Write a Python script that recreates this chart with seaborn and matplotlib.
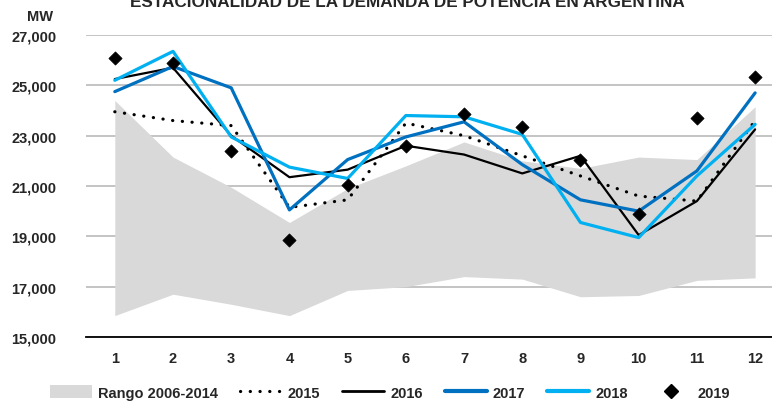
import numpy as np
import pandas as pd
import seaborn as sns
import matplotlib
matplotlib.use("Agg")
import matplotlib.pyplot as plt
from matplotlib.lines import Line2D
from matplotlib.patches import Patch

meses = list(range(1, 13))

# rango historico 2006-2014 (min / max)
rango_min = [15850, 16700, 16300, 15850, 16850, 17000, 17400, 17300, 16600, 16650, 17250, 17350]
rango_max = [24400, 22150, 20950, 19550, 20900, 21800, 22750, 22000, 21700, 22150, 22050, 24150]

d2015 = [23950, 23600, 23400, 20150, 20450, 23500, 23000, 22200, 21400, 20600, 20400, 23600]
d2016 = [25250, 25700, 23000, 21350, 21650, 22600, 22250, 21500, 22200, 19050, 20400, 23250]
d2017 = [24750, 25750, 24900, 20050, 22050, 22950, 23550, 21850, 20450, 20000, 21600, 24700]
d2018 = [25200, 26350, 22950, 21750, 21300, 23800, 23750, 23050, 19550, 18950, 21400, 23450]
d2019 = [26100, 25900, 22400, 18850, 21050, 22600, 23850, 23350, 22050, 19900, 23700, 25350]

sns.set_style("white")
plt.rcParams['font.family'] = ['Liberation Sans', 'DejaVu Sans']
plt.rcParams['font.weight'] = 'bold'

punteado = (0, (0.05, 3))

fig = plt.figure(figsize=(7.72, 4.10), dpi=100)
ax = fig.add_axes([0.111, 0.1756, 0.889, 0.7366])

ax.fill_between(meses, rango_min, rango_max, color='#D9D9D9', lw=0, zorder=1)

df = pd.DataFrame({'mes': meses * 4,
                   'mw': d2015 + d2016 + d2017 + d2018,
                   'anio': ['2015'] * 12 + ['2016'] * 12 + ['2017'] * 12 + ['2018'] * 12})

sns.lineplot(data=df[df.anio == '2015'], x='mes', y='mw', color='black', lw=2.3,
             linestyle=punteado, dash_capstyle='round', ax=ax, zorder=3)
sns.lineplot(data=df[df.anio == '2016'], x='mes', y='mw', color='black', lw=1.6, ax=ax, zorder=3)
sns.lineplot(data=df[df.anio == '2017'], x='mes', y='mw', color='#0070C0', lw=2.3, ax=ax, zorder=3)
sns.lineplot(data=df[df.anio == '2018'], x='mes', y='mw', color='#00B0F0', lw=2.3, ax=ax, zorder=3)
sns.scatterplot(x=meses, y=d2019, marker='D', s=45, color='black', edgecolor='black', ax=ax, zorder=4)

ax.set_xlim(0.5, 12.29)
ax.set_ylim(15000, 27000)
ax.set_yticks(range(15000, 27001, 2000))
ax.set_yticklabels(['{:,}'.format(v) for v in range(15000, 27001, 2000)])
ax.set_xticks(meses)
ax.set_xlabel('')
ax.set_ylabel('')
ax.yaxis.grid(True, color='#BFBFBF', lw=1.3)
ax.set_axisbelow(True)
for s in ['top', 'right', 'left']:
    ax.spines[s].set_visible(False)
ax.spines['bottom'].set_color('black')
ax.spines['bottom'].set_linewidth(1.3)
ax.tick_params(axis='both', length=0, labelsize=10.5)
ax.tick_params(axis='y', pad=21)
ax.tick_params(axis='x', pad=10)
for lb in ax.get_xticklabels() + ax.get_yticklabels():
    lb.set_fontweight('bold')

fig.text(0.052, 0.958, 'MW', fontsize=10.5, fontweight='bold', ha='center', va='center')
fig.text(0.528, 0.982, 'ESTACIONALIDAD DE LA DEMANDA DE POTENCIA EN ARGENTINA',
         fontsize=12.3, fontweight='bold', ha='center', va='baseline')

handles = [Patch(facecolor='#D9D9D9', edgecolor='none'),
           Line2D([], [], color='black', lw=2.3, linestyle=punteado, dash_capstyle='round'),
           Line2D([], [], color='black', lw=2),
           Line2D([], [], color='#0070C0', lw=3),
           Line2D([], [], color='#00B0F0', lw=3),
           Line2D([], [], color='black', marker='D', ms=7, lw=0)]
labels = ['Rango 2006-2014', '2015', '2016', '2017', '2018', '2019']
fig.legend(handles, labels, loc='center', bbox_to_anchor=(0.505, 0.04), ncol=6, frameon=False,
           handlelength=2.9, handleheight=1.0, columnspacing=1.5, handletextpad=0.4,
           prop={'weight': 'bold', 'size': 10.5})

fig.savefig('out.png', dpi=100)
